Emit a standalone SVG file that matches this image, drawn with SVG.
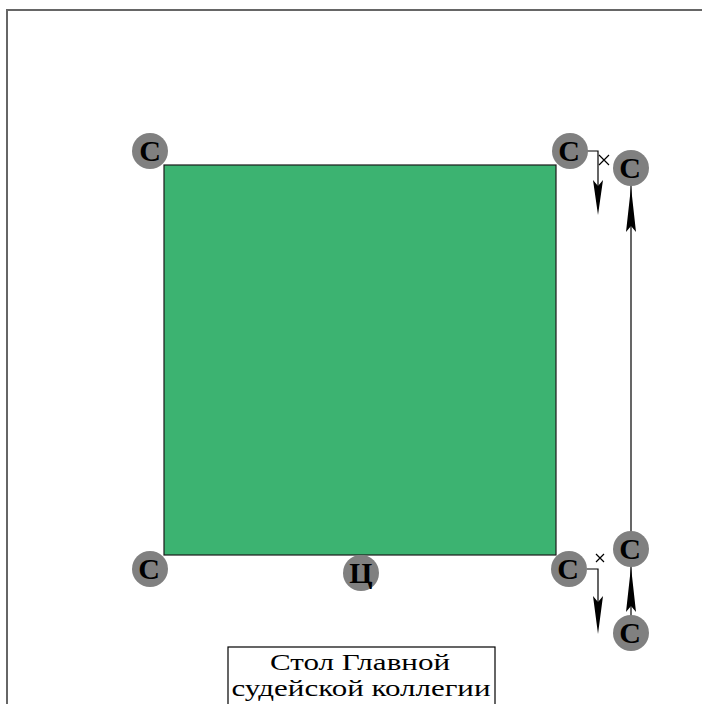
<svg xmlns="http://www.w3.org/2000/svg" width="702" height="704" viewBox="0 0 702 704">
<defs>
<style>
.c{fill:#808080;}
.t{font-family:"Liberation Serif","Times New Roman",serif;font-weight:bold;font-size:30px;fill:#000;text-anchor:middle;}
.ln{stroke:#000;stroke-width:1.2;fill:none;}
.ah{fill:#000;}
.lbl{font-family:"Liberation Serif","Times New Roman",serif;font-size:24px;fill:#000;text-anchor:middle;}
</style>
</defs>
<rect width="702" height="704" fill="#fff"/>
<path d="M7,704 V10 H702" fill="none" stroke="#666" stroke-width="2"/>
<g id="field"><rect x="164" y="165" width="392" height="390" fill="#3cb371" stroke="#1a1a1a" stroke-width="1.2"/></g>
<g id="connectors">
<path class="ln" d="M587,151 H598 V200"/>
<path class="ah" d="M593,180 L598,186 L603,180 L598,215 Z"/>
<path class="ln" d="M599,155 L609,165 M609,155 L599,165"/>
<path class="ln" d="M631,185 V532"/>
<path class="ah" d="M631,187 L636,232 L631,226 L626,232 Z"/>
<path class="ln" d="M587,569 H598 V615"/>
<path class="ah" d="M593,596 L598,602 L603,596 L598,634 Z"/>
<path class="ln" d="M596,554 L604,562 M604,554 L596,562"/>
<path class="ln" d="M631,566 V616"/>
<path class="ah" d="M631,567 L636,612 L631,606 L626,612 Z"/>
</g>
<g id="n1"><circle class="c" cx="150" cy="151" r="18"/><text class="t" x="150" y="161">С</text></g>
<g id="n2"><circle class="c" cx="570" cy="151" r="18"/><text class="t" x="569" y="161">С</text></g>
<g id="n3"><circle class="c" cx="631" cy="168" r="18"/><text class="t" x="630" y="178">С</text></g>
<g id="n4"><circle class="c" cx="150" cy="569" r="18"/><text class="t" x="149" y="579">С</text></g>
<g id="n5"><circle class="c" cx="361" cy="573" r="18"/><text class="t" x="361" y="583">Ц</text></g>
<g id="n6"><circle class="c" cx="569" cy="569" r="18"/><text class="t" x="568" y="579">С</text></g>
<g id="n7"><circle class="c" cx="631" cy="549" r="18"/><text class="t" x="630" y="559">С</text></g>
<g id="n8"><circle class="c" cx="631" cy="633" r="18"/><text class="t" x="630" y="643">С</text></g>
<g id="label">
<rect x="228" y="647" width="267" height="70" fill="#fff" stroke="#000" stroke-width="1.2"/>
<text class="lbl" x="360" y="670" textLength="180" lengthAdjust="spacingAndGlyphs">Стол Главной</text>
<text class="lbl" x="361" y="696" textLength="259" lengthAdjust="spacingAndGlyphs">судейской коллегии</text>
</g>
</svg>
